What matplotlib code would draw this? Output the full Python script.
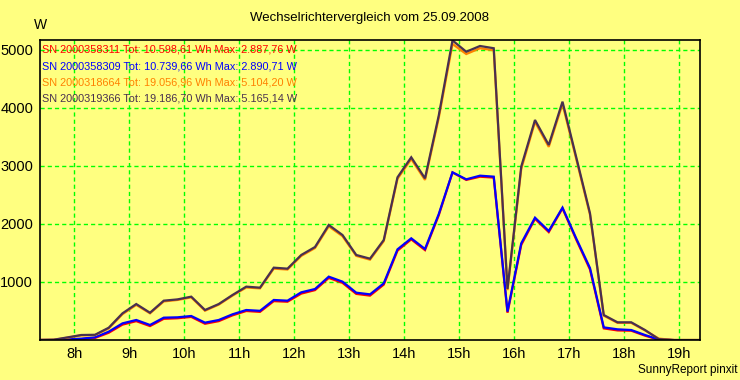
import numpy as np
import matplotlib.pyplot as plt

plt.rcParams['font.family'] = ['Liberation Sans', 'DejaVu Sans']

# 15 minute samples, first one at 7:22
t_start = 7.375
t_step = 0.25

# power in W per inverter
red = [0, 0, 5, 15, 35, 125, 265, 325, 240, 365, 375, 398, 280, 325, 425, 500, 485,
       670, 660, 800, 860, 1070, 985, 795, 765, 955, 1540, 1735, 1550, 2150, 2888,
       2760, 2815, 2800, 470, 1640, 2090, 1860, 2270, 1730, 1215, 200, 165, 160, 75,
       5, 0, np.nan, np.nan]
blue = [0, 0, 11, 23, 46, 144, 287, 345, 259, 385, 391, 414, 299, 345, 443, 517, 503,
        690, 678, 822, 879, 1092, 1006, 816, 787, 977, 1563, 1753, 1569, 2170, 2891,
        2770, 2833, 2816, 489, 1667, 2109, 1879, 2282, 1750, 1240, 218, 184, 172, 86,
        8, 0, np.nan, np.nan]
orange = [0, 3, 40, 80, 85, 200, 445, 605, 460, 665, 690, 735, 505, 610, 765, 905, 890,
          1230, 1215, 1450, 1585, 1960, 1790, 1450, 1385, 1705, 2780, 3120, 2760, 3830,
          5104, 4930, 5030, 4995, 860, 2950, 3760, 3330, 4070, 3120, 2160, 420, 295, 295,
          165, 25, 0, 0, 0]
dark = [0, 5, 45, 86, 90, 212, 460, 620, 470, 678, 700, 747, 517, 620, 776, 920, 902,
        1247, 1230, 1466, 1603, 1983, 1810, 1466, 1402, 1724, 2805, 3150, 2787, 3870,
        5165, 4970, 5069, 5030, 880, 2990, 3793, 3362, 4109, 3150, 2184, 431, 305, 305,
        172, 15, 0, 0, 0]

labels = ["SN 2000358311 Tot: 10.598,61 Wh Max: 2.887,76 W",
          "SN 2000358309 Tot: 10.739,66 Wh Max: 2.890,71 W",
          "SN 2000318664 Tot: 19.056,96 Wh Max: 5.104,20 W",
          "SN 2000319366 Tot: 19.186,70 Wh Max: 5.165,14 W"]
colors = ["#ff0000", "#0000ff", "#ff8000", "#483050"]

hours = [8, 9, 10, 11, 12, 13, 14, 15, 16, 17, 18, 19]
yticks = [1000, 2000, 3000, 4000, 5000]

t = t_start + t_step * np.arange(len(dark))
bg = "#ffff80"

fig = plt.figure(figsize=(7.4, 3.8), dpi=100, facecolor=bg)
ax = fig.add_axes([40/740, 40/380, 660/740, 300/380], facecolor=bg)

for vals, c in zip([red, blue, orange, dark], colors):
    ax.plot(t, vals, color=c, lw=1.6, solid_joinstyle='miter')

ax.set_xlim(7.375, 19.375)
ax.set_ylim(0, 5172)
ax.set_xticks(hours)
ax.set_xticklabels([f"{h}h" for h in hours])
ax.set_yticks(yticks)
ax.tick_params(length=0, labelsize=10.5, pad=5)
ax.grid(True, color="#00ff00", lw=1.0, linestyle=(0, (3, 2.2)))
for s in ax.spines.values():
    s.set_color("black")
    s.set_linewidth(1.2)

for i, (lab, c) in enumerate(zip(labels, colors)):
    ax.text(0.003, 0.967 - i * 0.0545, lab, color=c, fontsize=7.8,
            transform=ax.transAxes, va='center', ha='left')

fig.text(370/740, 1 - 18/380, "Wechselrichtervergleich vom 25.09.2008",
         ha='center', va='center', fontsize=9.5)
fig.text(40/740, 1 - 25/380, "W", ha='center', va='center', fontsize=10)
fig.text(737/740, 1 - 370/380, "SunnyReport pinxit", ha='right', va='center',
         fontsize=8.5)

fig.savefig("out.png", dpi=100, facecolor=bg)
